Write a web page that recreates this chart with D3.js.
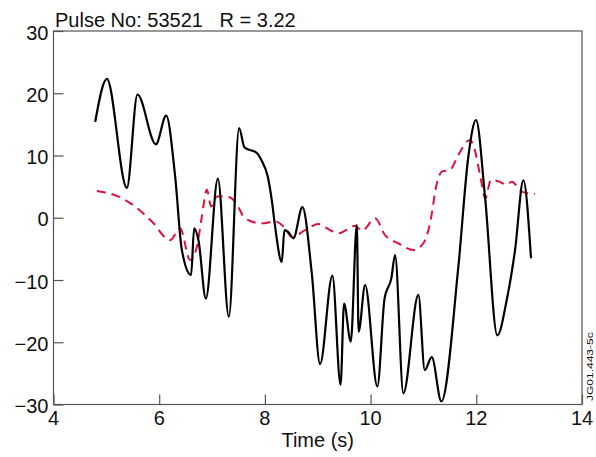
<!DOCTYPE html>
<html>
<head>
<meta charset="utf-8">
<script src="https://cdn.jsdelivr.net/npm/d3@7/dist/d3.min.js"></script>
<style>
  html, body { margin: 0; padding: 0; background: #fff; }
  svg { display: block; font-family: "Liberation Sans", Arial, sans-serif; }
</style>
</head>
<body>
<svg id="chart" width="596" height="457"></svg>
<script>
// Measured signal (solid black): time (s) and value
const measuredTime = [4.789, 5.010, 5.388, 5.589, 5.937, 6.132, 6.302, 6.429, 6.604, 6.661, 6.743, 6.883,
  7.110, 7.318, 7.512, 7.613, 7.847, 7.942, 8.055, 8.131, 8.193, 8.320, 8.369, 8.445, 8.539, 8.710, 8.887,
  9.044, 9.277, 9.432, 9.498, 9.625, 9.739, 9.773, 9.896, 10.128, 10.264, 10.393, 10.463, 10.620, 10.904,
  11.025, 11.157, 11.339, 11.660, 11.849, 11.995, 12.165, 12.398, 12.576, 12.733, 12.890, 13.035];
const measuredValue = [15.4, 22.3, 4.8, 19.8, 11.8, 16.4, 6.6, -5.2, -9.2, -1.7, -3.6, -13.0,
  6.3, -15.9, 14.4, 11.3, 10.4, 9.1, 6.6, 2.8, -1.4, -7.1, -2.0, -2.3, -3.3, 1.7, -8.9,
  -23.5, -9.3, -26.8, -13.8, -19.9, -1.2, -18.3, -10.8, -27.1, -13.0, -9.7, -6.0, -28.2, -12.4,
  -24.5, -22.4, -29.5, -7.9, 9.8, 15.7, 3.4, -18.9, -13.2, -5.2, 6.0, -6.5];

// Model signal (dashed red)
const modelTime = [4.821, 5.229, 5.545, 5.861, 6.207, 6.396, 6.585, 6.712, 6.807, 6.901, 6.983, 7.091,
  7.280, 7.437, 7.626, 7.942, 8.193, 8.382, 8.509, 8.760, 9.012, 9.234, 9.391, 9.707, 9.839, 10.085,
  10.274, 10.525, 10.809, 10.998, 11.125, 11.252, 11.346, 11.503, 11.660, 11.880, 11.961, 12.088, 12.170,
  12.277, 12.434, 12.576, 12.670, 12.860, 13.111];
const modelValue = [4.3, 3.4, 1.8, -0.6, -3.6, -1.7, -6.8, -4.7, 0.2, 4.5, 1.8, 3.4,
  3.4, 2.6, -0.1, -0.9, -0.6, -1.7, -3.1, -2.0, -1.0, -2.0, -2.5, -1.3, -2.1, -0.1,
  -2.8, -4.1, -5.2, -4.1, -0.9, 5.5, 7.4, 7.7, 10.1, 12.5, 11.2, 6.1, 3.1,
  6.1, 5.8, 5.3, 5.8, 4.2, 3.8];

const xTicks = [4, 6, 8, 10, 12, 14];
const yTicks = [-30, -20, -10, 0, 10, 20, 30];
const titleText = "Pulse No: 53521   R = 3.22";
const xLabel = "Time (s)";
const figureId = "JG01.443-5c";

const svg = d3.select("#chart");
const m = { left: 53.5, right: 582, top: 31, bottom: 404.5 };

const x = d3.scaleLinear().domain([4, 14]).range([m.left, m.right]);
const y = d3.scaleLinear().domain([-30, 30]).range([m.bottom, m.top]);

const axisColor = "#555";
const fontSize = 20;

// frame
svg.append("rect")
  .attr("x", m.left).attr("y", m.top)
  .attr("width", m.right - m.left).attr("height", m.bottom - m.top)
  .attr("fill", "none").attr("stroke", axisColor).attr("stroke-width", 1.2);

// x axis (ticks pointing inward)
const xAxis = svg.append("g")
  .attr("transform", `translate(0,${m.bottom})`)
  .call(d3.axisTop(x).tickValues(xTicks).tickSize(10).tickFormat(""));
xAxis.select(".domain").remove();
xAxis.selectAll("line").attr("stroke", axisColor).attr("stroke-width", 1.2);
svg.append("g").selectAll("text").data(xTicks).join("text")
  .attr("x", d => x(d)).attr("y", m.bottom + 20)
  .attr("text-anchor", "middle").attr("font-size", fontSize).attr("fill", "#111")
  .text(d => d3.format("")(d));

// y axis (ticks pointing inward)
const yAxis = svg.append("g")
  .attr("transform", `translate(${m.left},0)`)
  .call(d3.axisRight(y).tickValues(yTicks).tickSize(10).tickFormat(""));
yAxis.select(".domain").remove();
yAxis.selectAll("line").attr("stroke", axisColor).attr("stroke-width", 1.2);
svg.append("g").selectAll("text").data(yTicks).join("text")
  .attr("x", m.left - 5).attr("y", d => y(d) + 8.5)
  .attr("text-anchor", "end").attr("font-size", fontSize).attr("fill", "#111")
  .text(d => d3.format("")(d));

// series
const measured = measuredTime.map((t, i) => [t, measuredValue[i]]);
const model = modelTime.map((t, i) => [t, modelValue[i]]);
const line = d3.line().x(d => x(d[0])).y(d => y(d[1])).curve(d3.curveMonotoneX);

svg.append("path").datum(model)
  .attr("d", line).attr("fill", "none")
  .attr("stroke", "#e0103c").attr("stroke-width", 2)
  .attr("stroke-dasharray", "9,6");

svg.append("path").datum(measured)
  .attr("d", line).attr("fill", "none")
  .attr("stroke", "#000").attr("stroke-width", 2.2)
  .attr("stroke-linejoin", "round");

// labels
svg.append("text").attr("x", 55).attr("y", 27)
  .attr("font-size", fontSize).attr("fill", "#111")
  .style("white-space", "pre").attr("xml:space", "preserve")
  .text(titleText);

svg.append("text").attr("x", (m.left + m.right) / 2).attr("y", 447)
  .attr("text-anchor", "middle").attr("font-size", fontSize).attr("fill", "#111")
  .text(xLabel);

// figure reference, set vertically along the right edge in a narrow face
svg.append("text")
  .attr("transform", `translate(593,401) rotate(-90) scale(1,0.8)`)
  .attr("font-size", 12).attr("fill", "#111")
  .text(figureId);
</script>
</body>
</html>
